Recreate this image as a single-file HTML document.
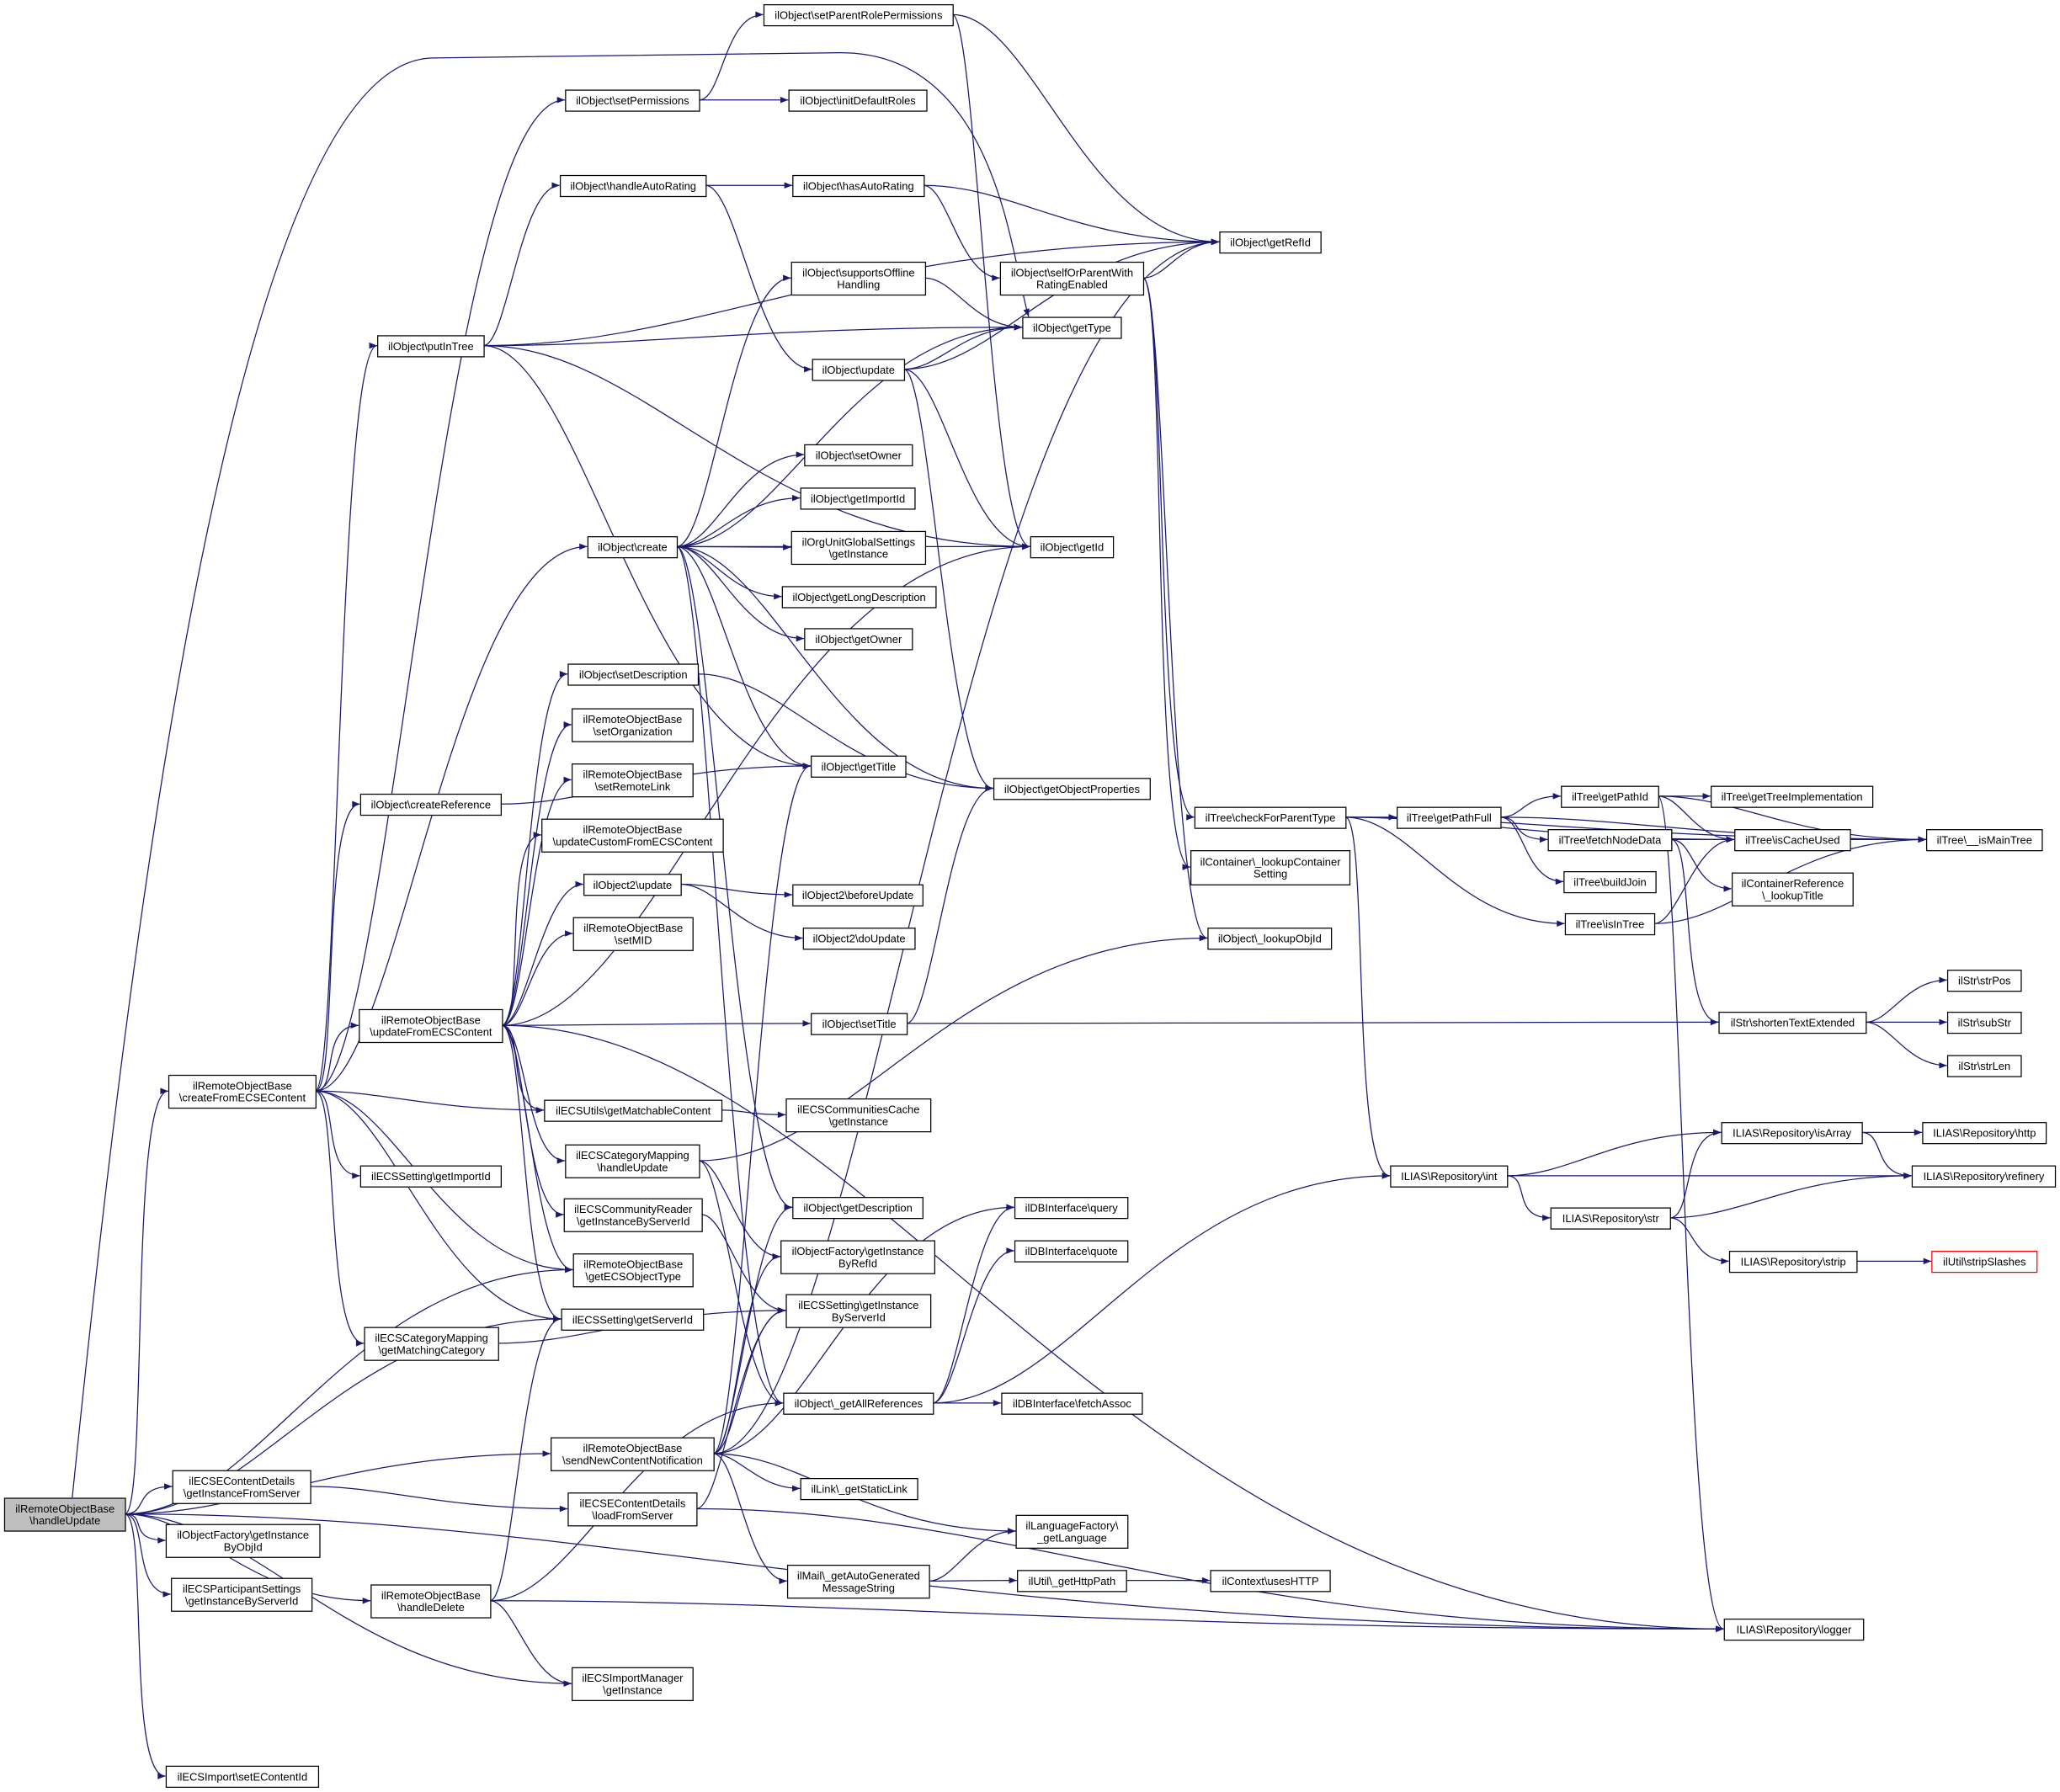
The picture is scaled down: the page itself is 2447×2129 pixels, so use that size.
<!DOCTYPE html>
<html><head><meta charset="utf-8">
<style>
html,body{margin:0;padding:0;background:#fff;}
svg{display:block;}
text{font-family:"Liberation Sans",Arial,sans-serif;font-size:8.3px;fill:#000;}
</style></head>
<body>
<svg id="g" xmlns="http://www.w3.org/2000/svg" width="2447" height="2129" viewBox="0 0 1568 1364">
<defs><marker id="a" viewBox="0 0 10 10" refX="10" refY="5" markerWidth="7" markerHeight="6" markerUnits="userSpaceOnUse" orient="auto"><path d="M0,1 L10,5 L0,9 z" fill="#191970"/></marker></defs>
<g id="edges">
<path d="M55,1140 C100,700 180,44 330,44 L640,40 C760,40 770,200 783,241" fill="none" stroke="#191970" stroke-width="0.8" marker-end="url(#a)"/>
</g><g id="nodes"></g>
</svg>
<script>
var N={
hu:[3,1140,92,25,"ilRemoteObjectBase|\\handleUpdate",1],
cf:[128,818,112,25,"ilRemoteObjectBase|\\createFromECSEContent"],
sprp:[581,3,144,16,"ilObject\\setParentRolePermissions"],
sp:[430,68,102,16,"ilObject\\setPermissions"],
idr:[600,68,105,16,"ilObject\\initDefaultRoles"],
har:[426,133,111,16,"ilObject\\handleAutoRating"],
hasr:[603,133,100,16,"ilObject\\hasAutoRating"],
gri:[928,176,77,16,"ilObject\\getRefId"],
sop:[761,199,109,25,"ilObject\\selfOrParentWith|RatingEnabled"],
soh:[602,199,102,25,"ilObject\\supportsOffline|Handling"],
gt:[778,241,75,16,"ilObject\\getType"],
pit:[287,255,81,16,"ilObject\\putInTree"],
upd:[618,273,70,16,"ilObject\\update"],
sow:[612,338,82,16,"ilObject\\setOwner"],
gii:[609,371,87,16,"ilObject\\getImportId"],
oug:[602,404,102,25,"ilOrgUnitGlobalSettings|\\getInstance"],
cr:[447,408,68,16,"ilObject\\create"],
gid:[784,408,63,16,"ilObject\\getId"],
gld:[595,446,117,16,"ilObject\\getLongDescription"],
gow:[612,478,82,16,"ilObject\\getOwner"],
sd:[432,505,99,16,"ilObject\\setDescription"],
so:[435,539,92,25,"ilRemoteObjectBase|\\setOrganization"],
srl:[435,581,92,25,"ilRemoteObjectBase|\\setRemoteLink"],
gtt:[617,575,72,16,"ilObject\\getTitle"],
cre:[274,604,107,16,"ilObject\\createReference"],
gop:[756,592,119,16,"ilObject\\getObjectProperties"],
ucf:[412,623,138,25,"ilRemoteObjectBase|\\updateCustomFromECSContent"],
o2u:[444,665,74,16,"ilObject2\\update"],
bu:[603,673,99,16,"ilObject2\\beforeUpdate"],
smid:[436,698,91,25,"ilRemoteObjectBase|\\setMID"],
du:[611,706,85,16,"ilObject2\\doUpdate"],
ufe:[273,768,109,25,"ilRemoteObjectBase|\\updateFromECSContent"],
st:[617,771,73,16,"ilObject\\setTitle"],
cpt:[909,614,115,16,"ilTree\\checkForParentType"],
gpf:[1063,614,79,16,"ilTree\\getPathFull"],
gpi:[1188,598,74,16,"ilTree\\getPathId"],
gti:[1302,598,123,16,"ilTree\\getTreeImplementation"],
fnd:[1178,631,94,16,"ilTree\\fetchNodeData"],
icu:[1320,631,88,16,"ilTree\\isCacheUsed"],
imt:[1466,631,88,16,"ilTree\\__isMainTree"],
bj:[1190,663,70,16,"ilTree\\buildJoin"],
clt:[1318,664,92,25,"ilContainerReference|\\_lookupTitle"],
lcs:[906,647,121,26,"ilContainer\\_lookupContainer|Setting"],
loi:[919,706,94,16,"ilObject\\_lookupObjId"],
iit:[1191,695,68,16,"ilTree\\isInTree"],
ste:[1308,770,112,16,"ilStr\\shortenTextExtended"],
spos:[1482,738,56,16,"ilStr\\strPos"],
ssub:[1482,770,56,16,"ilStr\\subStr"],
slen:[1482,803,56,16,"ilStr\\strLen"],
gmc:[414,837,135,16,"ilECSUtils\\getMatchableContent"],
ccg:[598,836,110,25,"ilECSCommunitiesCache|\\getInstance"],
cmh:[430,871,102,25,"ilECSCategoryMapping|\\handleUpdate"],
sgi:[274,887,107,16,"ilECSSetting\\getImportId"],
gd:[603,911,99,16,"ilObject\\getDescription"],
crg:[429,912,105,25,"ilECSCommunityReader|\\getInstanceByServerId"],
geo:[436,954,91,25,"ilRemoteObjectBase|\\getECSObjectType"],
ofr:[594,944,117,25,"ilObjectFactory\\getInstance|ByRefId"],
dbq:[772,911,86,16,"ilDBInterface\\query"],
dbqu:[772,944,86,16,"ilDBInterface\\quote"],
gsi:[427,996,108,16,"ilECSSetting\\getServerId"],
cmm:[277,1010,102,25,"ilECSCategoryMapping|\\getMatchingCategory"],
esg:[598,985,110,25,"ilECSSetting\\getInstance|ByServerId"],
gar:[596,1060,114,16,"ilObject\\_getAllReferences"],
dbf:[762,1060,107,16,"ilDBInterface\\fetchAssoc"],
rint:[1058,887,89,16,"ILIAS\\Repository\\int"],
rarr:[1310,854,107,16,"ILIAS\\Repository\\isArray"],
rhttp:[1463,854,94,16,"ILIAS\\Repository\\http"],
rref:[1455,887,109,16,"ILIAS\\Repository\\refinery"],
rstr:[1180,919,91,16,"ILIAS\\Repository\\str"],
rstrip:[1316,952,97,16,"ILIAS\\Repository\\strip"],
uss:[1470,952,80,16,"ilUtil\\stripSlashes",2],
snc:[419,1094,124,25,"ilRemoteObjectBase|\\sendNewContentNotification"],
lsl:[609,1125,89,16,"ilLink\\_getStaticLink"],
gifs:[131,1119,105,25,"ilECSEContentDetails|\\getInstanceFromServer"],
lfs:[432,1136,98,25,"ilECSEContentDetails|\\loadFromServer"],
ofo:[126,1160,117,25,"ilObjectFactory\\getInstance|ByObjId"],
lgl:[773,1153,85,25,"ilLanguageFactory\\|_getLanguage"],
eps:[130,1201,107,25,"ilECSParticipantSettings|\\getInstanceByServerId"],
gag:[599,1191,108,25,"ilMail\\_getAutoGenerated|MessageString"],
ghp:[774,1195,83,16,"ilUtil\\_getHttpPath"],
uh:[921,1195,91,16,"ilContext\\usesHTTP"],
hd:[282,1206,91,25,"ilRemoteObjectBase|\\handleDelete"],
eim:[435,1269,92,25,"ilECSImportManager|\\getInstance"],
lg:[1312,1232,106,16,"ILIAS\\Repository\\logger"],
sec:[126,1344,116,16,"ilECSImport\\setEContentId"]
};
var E={
hu:"cf gifs ofo eps hd eim sec lg snc geo gsi",
cf:"sp pit cr cre ufe gmc sgi cmm geo gsi",
sprp:"gri gid", sp:"sprp idr", har:"hasr upd", hasr:"gri sop",
sop:"gri cpt lcs loi", soh:"gt", pit:"har gri gt gid gtt",
upd:"gt gri gid gop",
cr:"soh gt sow gii oug gld gow gid gtt gop gar gd",
sd:"gop", cre:"gtt",
ufe:"sd so srl ucf o2u smid gid st lg gmc cmh crg geo gsi",
o2u:"bu du", st:"gop ste",
cpt:"gpf icu imt iit rint", gpf:"gpi fnd bj imt",
gpi:"gti icu imt lg", fnd:"icu clt ste", icu:"imt", iit:"icu imt",
ste:"spos ssub slen", gmc:"ccg", cmh:"loi ofr gar", crg:"esg", cmm:"esg",
gar:"dbq dbqu dbf rint", rint:"rarr rref rstr", rarr:"rhttp rref",
rstr:"rarr rref rstrip", rstrip:"uss",
snc:"gtt gd ofr esg lsl lgl gag gri dbq",
gifs:"lfs", lfs:"esg lg", gag:"lgl ghp", ghp:"uh",
hd:"gsi gar lg eim"
};
var ns="http://www.w3.org/2000/svg",eg=document.getElementById("edges"),ng=document.getElementById("nodes");
for(var k in N){var n=N[k];
 var r=document.createElementNS(ns,"rect");
 r.setAttribute("x",n[0]+.5);r.setAttribute("y",n[1]+.5);r.setAttribute("width",n[2]);r.setAttribute("height",n[3]);
 r.setAttribute("fill",n[5]==1?"#bfbfbf":"#fff");r.setAttribute("stroke",n[5]==2?"#ff0000":"#000");r.setAttribute("stroke-width","0.8");
 ng.appendChild(r);
 var lines=n[4].split("|");
 for(var i=0;i<lines.length;i++){var t=document.createElementNS(ns,"text");
  t.setAttribute("x",n[0]+n[2]/2+0.5);t.setAttribute("text-anchor","middle");
  var cy=n[1]+n[3]/2+3.4+(lines.length==2?(i==0?-4.6:4.6):0);
  t.setAttribute("y",cy);t.textContent=lines[i];ng.appendChild(t);}
}
for(var s in E){var tl=E[s].split(" ");
 for(var j=0;j<tl.length;j++){var a=N[s],b=N[tl[j]];if(!b)continue;
  var x1=a[0]+a[2],y1=a[1]+a[3]/2,x2=b[0],y2=b[1]+b[3]/2;
  if(x2<x1){x1=a[0]+a[2]/2;y1=(y2<a[1])?a[1]:a[1]+a[3];}
  var dx=Math.max(30,(x2-x1)*0.5);
  var p=document.createElementNS(ns,"path");
  p.setAttribute("d","M"+x1+","+y1+" C"+(x1+dx*0.6)+","+y1+" "+(x2-dx)+","+y2+" "+x2+","+y2);
  p.setAttribute("fill","none");p.setAttribute("stroke","#191970");p.setAttribute("stroke-width","0.8");
  p.setAttribute("marker-end","url(#a)");eg.appendChild(p);}
}
</script>
</body></html>
